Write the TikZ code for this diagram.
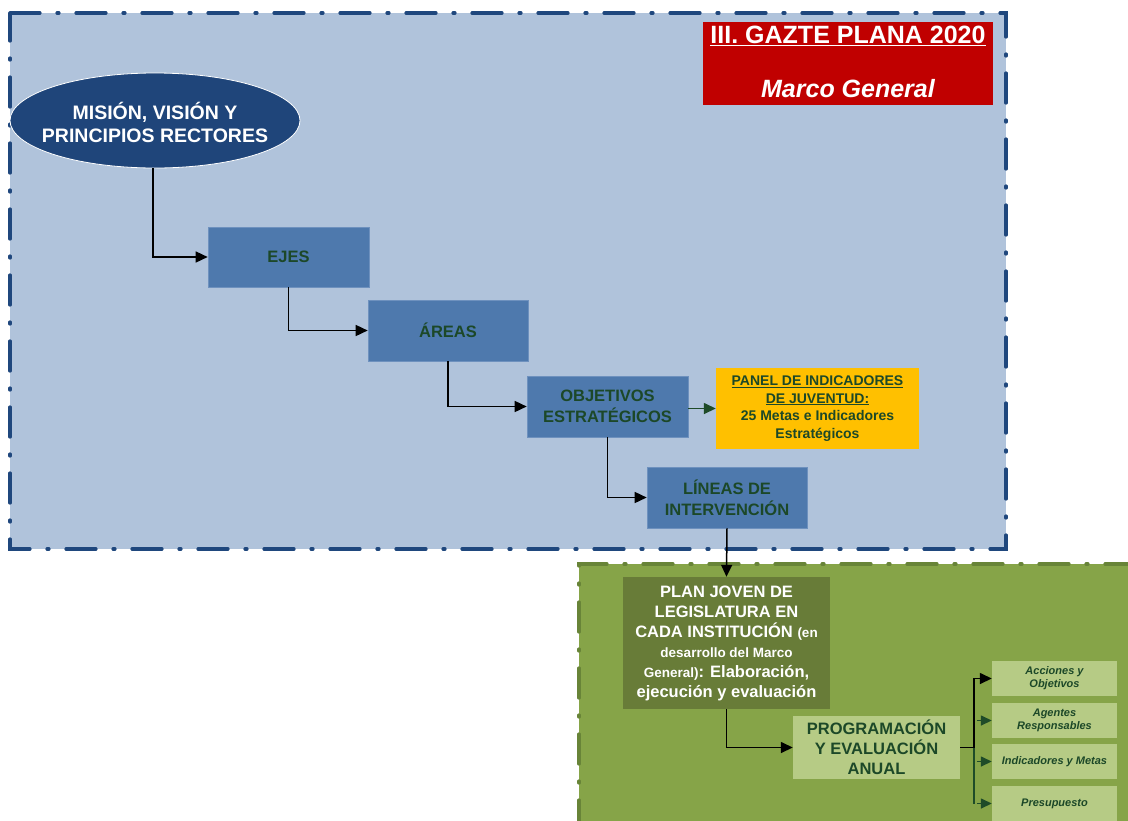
\documentclass[tikz,border=0pt]{standalone}
\usepackage{fontspec}
\setmainfont{Liberation Sans}
\usetikzlibrary{arrows.meta,shapes.geometric}
\definecolor{bluebg}{RGB}{176,195,219}
\definecolor{blueborder}{RGB}{31,71,125}
\definecolor{ellfill}{RGB}{31,69,122}
\definecolor{boxblue}{RGB}{78,121,173}
\definecolor{boxedge}{RGB}{110,145,190}
\definecolor{dkgreentext}{RGB}{28,72,40}
\definecolor{panelyellow}{RGB}{255,192,0}
\definecolor{titlered}{RGB}{192,0,0}
\definecolor{greenbg}{RGB}{134,164,72}
\definecolor{greenborder}{RGB}{104,132,56}
\definecolor{planfill}{RGB}{104,124,56}
\definecolor{lightgreen}{RGB}{182,203,133}
\definecolor{arrowgreen}{RGB}{30,75,40}
\tikzset{
  frameline/.style={line width=3.2pt, line cap=round, dash pattern=on 30pt off 17pt on 2pt off 17pt},
  bluebox/.style={rectangle, fill=boxblue, draw=boxedge, line width=0.6pt, inner sep=0pt, align=center,
     text=dkgreentext, font=\fontsize{16.5}{21}\selectfont\bfseries},
  smallbox/.style={rectangle, fill=lightgreen, inner sep=0pt, minimum width=125pt, minimum height=35pt, align=center,
     text=dkgreentext, font=\fontsize{11}{13}\selectfont\bfseries\itshape},
  arr/.style={line width=1.5pt, draw=black, -{Triangle[length=12pt,width=11pt]}},
  garr/.style={line width=1.5pt, draw=arrowgreen, -{Triangle[length=12pt,width=11pt]}},
  sgarr/.style={line width=1.5pt, draw=arrowgreen, -{Triangle[length=11pt,width=10pt]}},
}
\begin{document}
\begin{tikzpicture}[x=1pt,y=-1pt]
\useasboundingbox (0,0) rectangle (1128,820);
\fill[white] (0,0) rectangle (1128,820);
% green region
\begin{scope}
\clip (0,0) rectangle (1128,820);
\fill[greenbg] (579,564) rectangle (1140,830);
\draw[frameline, greenborder] (579,830) -- (579,564) -- (1140,564);
\end{scope}
% blue region
\fill[bluebg] (10,13) rectangle (1006,549);
\draw[frameline, blueborder] (10,13) -- (1006,13) -- (1006,549) -- (10,549) -- cycle;

% title
\node[rectangle, fill=titlered, minimum width=290pt, minimum height=83pt, inner sep=0pt] (title) at (848,63.5) {};
\node[text=white, font=\fontsize{25}{28}\selectfont\bfseries, inner sep=0pt] (titletext) at (848,36) {\underline{III. GAZTE PLANA 2020}};
\node[text=white, font=\fontsize{25}{28}\selectfont\bfseries\itshape, inner sep=0pt] (subtitle) at (848,89) {Marco General};

% ellipse
\node[ellipse, fill=ellfill, draw=white, line width=0.8pt, minimum width=290pt, minimum height=95pt, inner sep=0pt] (mision) at (155,120.5) {};
\node[text=white, align=center, inner sep=0pt, font=\fontsize{19.5}{23}\selectfont\bfseries] (misiontext) at (155,122)
      {MISIÓN, VISIÓN Y\\PRINCIPIOS RECTORES};

% blue boxes
\node[bluebox, minimum width=161pt, minimum height=60pt] (ejes) at (288.5,257) {EJES};
\node[bluebox, minimum width=160pt, minimum height=61pt] (areas) at (448,330.5) {ÁREAS};
\node[bluebox, minimum width=161pt, minimum height=61pt] (obj) at (607.5,406.5) {OBJETIVOS\\ESTRATÉGICOS};
\node[bluebox, minimum width=160pt, minimum height=61pt] (lineas) at (727,497.5) {LÍNEAS DE\\INTERVENCIÓN};

% panel
\node[rectangle, fill=panelyellow, minimum width=203pt, minimum height=81pt, inner sep=0pt, align=center,
      text=dkgreentext, font=\fontsize{14}{17.5}\selectfont\bfseries] (panel) at (817.5,408.5)
      {\underline{PANEL DE INDICADORES}\\\underline{DE JUVENTUD:}\\25 Metas e Indicadores\\Estratégicos};

% plan joven
\node[rectangle, fill=planfill, minimum width=207pt, minimum height=132pt, inner sep=0pt, align=center,
      text=white, font=\fontsize{16.5}{20}\selectfont\bfseries] (plan) at (726.5,643)
      {PLAN JOVEN DE\\LEGISLATURA EN\\CADA INSTITUCIÓN {\fontsize{13.5}{20}\selectfont (en}\\
       {\fontsize{13.5}{20}\selectfont desarrollo del Marco}\\
       {\fontsize{13.5}{20}\selectfont General)}: Elaboración,\\ejecución y evaluación};

% programacion
\node[rectangle, fill=lightgreen, minimum width=167pt, minimum height=63pt, inner sep=0pt, align=center,
      text=dkgreentext, font=\fontsize{16.5}{20}\selectfont\bfseries] (prog) at (876.5,747.5)
      {PROGRAMACIÓN\\Y EVALUACIÓN\\ANUAL};

% small boxes
\node[smallbox] (acc) at (1054.5,678.5) {Acciones y\\Objetivos};
\node[smallbox] (agen) at (1054.5,720.5) {Agentes\\Responsables};
\node[smallbox] (ind) at (1054.5,761.5) {Indicadores y Metas};
\node[smallbox] (pres) at (1054.5,803.5) {Presupuesto};

% connectors
\draw[arr] ([xshift=-2pt]mision.south) |- (ejes.west);
\draw[arr] (ejes.south) |- (areas.west);
\draw[arr] (areas.south) |- (obj.west);
\draw[arr] (obj.south) |- (lineas.west);
\draw[garr] (obj.east |- panel.west) -- (panel.west);
\draw[arr] (lineas.south) -- (plan.north);
\draw[arr] (plan.south) |- (prog.west);

\coordinate (fork) at (974,747.5);
\draw[line width=1.5pt, draw=arrowgreen] (fork) -- (fork |- pres.west);
\draw[arr] (prog.east) -- (fork) |- (acc.west);
\draw[sgarr] ([xshift=-15pt]agen.west) -- (agen.west);
\draw[sgarr] ([xshift=-15pt]ind.west) -- (ind.west);
\draw[sgarr] ([xshift=-15pt]pres.west) -- (pres.west);
\end{tikzpicture}
\end{document}
